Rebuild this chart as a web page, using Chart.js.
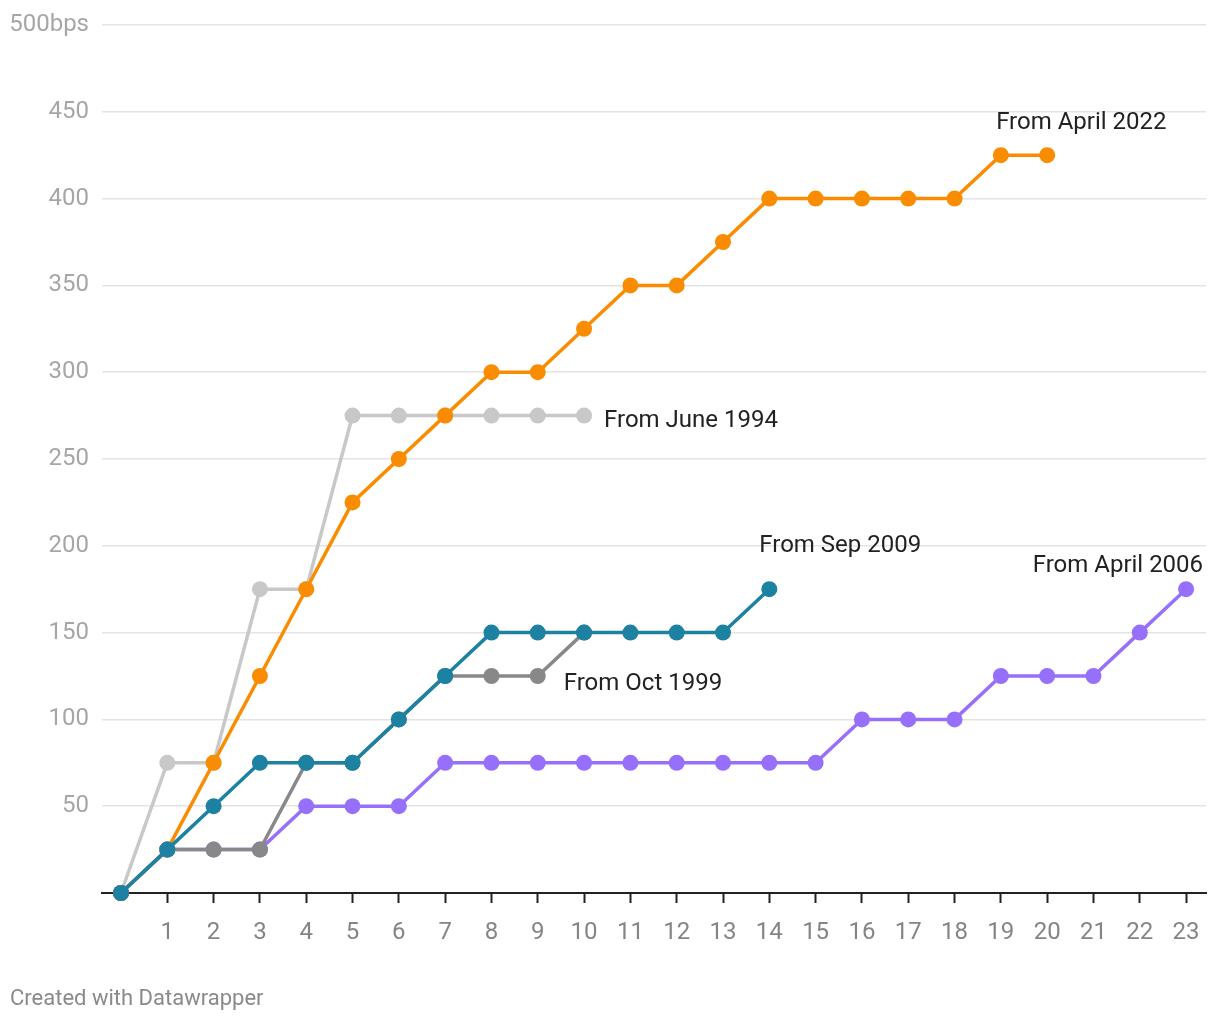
<!DOCTYPE html>
<html>
<head>
<meta charset="utf-8">
<script src="https://cdn.jsdelivr.net/npm/chart.js@4"></script>
<style>
  html, body { margin: 0; padding: 0; background: #fff; }
  #wrap { position: relative; width: 1220px; height: 1020px; }
  #footer {
    position: absolute; left: 10px; top: 985px;
    font: 22px Roboto, sans-serif; color: #8a8a8a;
  }
</style>
</head>
<body>
<div id="wrap">
  <canvas id="hikeChart" width="1220" height="1020"></canvas>
  <div id="footer">Created with Datawrapper</div>
</div>
<script>
// months since first hike
const months = [0, 1, 2, 3, 4, 5, 6, 7, 8, 9, 10, 11, 12, 13, 14, 15, 16, 17, 18, 19, 20, 21, 22, 23];

// cumulative hikes in bps
const sep2009 = [0, 25, 50, 75, 75, 75, 100, 125, 150, 150, 150, 150, 150, 150, 175];
const oct1999 = [0, 25, 25, 25, 75, 75, 100, 125, 125, 125, 150];
const april2022 = [0, 25, 75, 125, 175, 225, 250, 275, 300, 300, 325, 350, 350, 375, 400, 400, 400, 400, 400, 425, 425];
const april2006 = [0, 25, 25, 25, 50, 50, 50, 75, 75, 75, 75, 75, 75, 75, 75, 75, 100, 100, 100, 125, 125, 125, 150, 175];
const june1994 = [0, 75, 75, 175, 175, 275, 275, 275, 275, 275, 275];

const xTickValues = [1, 2, 3, 4, 5, 6, 7, 8, 9, 10, 11, 12, 13, 14, 15, 16, 17, 18, 19, 20, 21, 22, 23];
const yTickValues = [50, 100, 150, 200, 250, 300, 350, 400, 450, 500];

const toPoints = arr => arr.map((v, i) => ({ x: months[i], y: v }));

function series(label, arr, color) {
    return {
        label: label,
        data: toPoints(arr),
        borderColor: color,
        backgroundColor: color,
        pointBackgroundColor: color,
        pointBorderWidth: 0,
        pointRadius: 8,
        pointHoverRadius: 8,
        borderWidth: 3.5,
        tension: 0,
        clip: false
    };
}

// labels at the end of the lines
const notes = [
    { text: 'From April 2022', series: 2, idx: 20, dx: -51, dy: -32, align: 'left' },
    { text: 'From June 1994', series: 4, idx: 10, dx: 20, dy: 5, align: 'left' },
    { text: 'From Sep 2009', series: 0, idx: 14, dx: -10, dy: -43, align: 'left' },
    { text: 'From Oct 1999', series: 1, idx: 9, dx: 26, dy: 8, align: 'left' },
    { text: 'From April 2006', series: 3, idx: 23, dx: 17, dy: -23, align: 'right' }
];

const notePlugin = {
    id: 'notes',
    afterDatasetsDraw(chart) {
        const { ctx, scales } = chart;
        ctx.save();
        ctx.font = '24px Roboto, sans-serif';
        ctx.fillStyle = '#222';
        ctx.textBaseline = 'middle';
        notes.forEach(n => {
            const p = chart.data.datasets[n.series].data[n.idx];
            ctx.textAlign = n.align;
            ctx.fillText(n.text, scales.x.getPixelForValue(p.x) + n.dx, scales.y.getPixelForValue(p.y) + n.dy);
        });
        ctx.restore();
    }
};

const ctx = document.getElementById('hikeChart').getContext('2d');

new Chart(ctx, {
    type: 'line',
    data: {
        datasets: [
            series('From Sep 2009', sep2009, '#1d81a1'),
            series('From Oct 1999', oct1999, '#888888'),
            series('From April 2022', april2022, '#f98c00'),
            series('From April 2006', april2006, '#9670fa'),
            series('From June 1994', june1994, '#c8c8c8')
        ]
    },
    options: {
        responsive: false,
        animation: false,
        events: [],
        layout: { padding: { left: 0, right: 14, top: 25, bottom: 0 } },
        scales: {
            x: {
                type: 'linear',
                min: -0.41,
                max: 23.43,
                afterBuildTicks: scale => { scale.ticks = xTickValues.map(v => ({ value: v })); },
                afterFit: scale => { scale.height = 127; scale.paddingLeft = 0; scale.paddingRight = 0; },
                grid: {
                    drawOnChartArea: false,
                    drawTicks: true,
                    tickLength: 10,
                    tickWidth: 2,
                    tickColor: '#222'
                },
                border: { display: true, color: '#222', width: 2 },
                ticks: {
                    padding: 16,
                    maxRotation: 0,
                    autoSkip: false,
                    color: '#858585',
                    font: { family: 'Roboto', size: 24 },
                    callback: v => v
                }
            },
            y: {
                min: 0,
                max: 500,
                afterBuildTicks: scale => { scale.ticks = yTickValues.map(v => ({ value: v })); },
                afterFit: scale => { scale.width = 102; scale.paddingTop = 0; scale.paddingBottom = 0; },
                grid: { color: '#e4e4e4', lineWidth: 1.5, drawTicks: false },
                border: { display: false },
                ticks: {
                    padding: 13,
                    color: '#a6a6a6',
                    font: { family: 'Roboto', size: 24 },
                    callback: v => v === 500 ? '500bps' : v
                }
            }
        },
        plugins: {
            legend: { display: false },
            tooltip: { enabled: false }
        }
    },
    plugins: [notePlugin]
});
</script>
</body>
</html>
